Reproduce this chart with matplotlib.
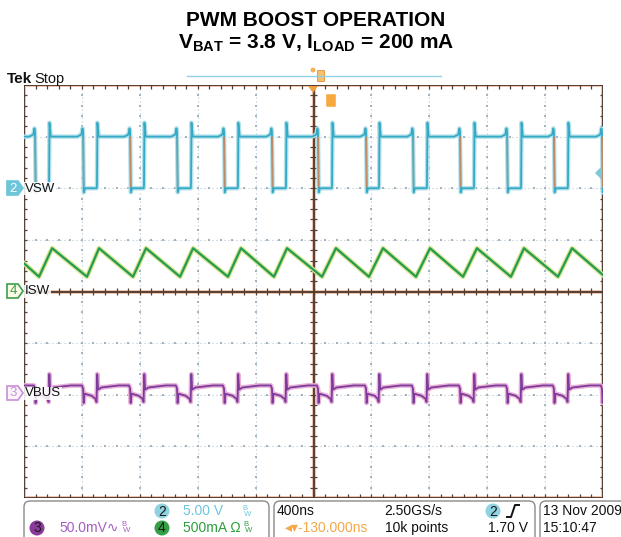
import matplotlib.pyplot as plt
import numpy as np
from matplotlib.patches import FancyBboxPatch, Polygon, Circle
from matplotlib.collections import LineCollection

plt.rcParams['mathtext.fontset'] = 'custom'
plt.rcParams['mathtext.rm'] = 'Liberation Sans'
plt.rcParams['mathtext.bf'] = 'Liberation Sans:bold'

SCOPE_FONT = ['Liberation Sans', 'DejaVu Sans']

# scope settings
ns_per_div = 400
vsw_v_per_div = 5.0
isw_ma_per_div = 500.0
vbus_mv_per_div = 50.0
vsw_pos, isw_pos, vbus_pos = 6.0, 4.0, 2.0

# VSW (ch2) edge times, ns from screen centre
vsw_fall_ns = [-1924, -1592, -1267, -943, -618, -287, 31, 363, 687, 1012, 1337, 1661, 1993]
vsw_rise_ns = [-1827, -1496, -1171, -846, -522, -190, 128, 453, 784, 1109, 1434, 1758]
vsw_start_v = 5.0
# shape around each edge (ns offset, volts)
vsw_fall_dt = [-40, -12, -4, 0, 5, 14]
vsw_fall_v = [5.0, 5.2, 5.8, 5.5, -0.4, 0.0]
vsw_rise_dt = [-2, 0, 3, 12]
vsw_rise_v = [0.0, 0.3, 6.35, 5.0]

# ISW (ch4) inductor current vertices
isw_t_ns = [-2000, -1896, -1806, -1565, -1482, -1247, -1157, -922, -832, -591, -501,
            -273, -183, 59, 155, 383, 480, 708, 805, 1033, 1129, 1364, 1454, 1689, 1786, 2000]
isw_ma = [273, 143, 419, 143, 419, 143, 419, 143, 419, 143, 419,
          143, 419, 143, 419, 143, 419, 143, 419, 143, 419, 143, 419, 143, 419, 160]

# VBUS (ch3) ripple shape around each VSW edge (ns offset, mV)
vbus_start_mv = 9
vbus_fall_dt = [-8, 0, 4, 10, 60]
vbus_fall_mv = [9, 6, -8, 1, -1]
vbus_rise_dt = [-10, -3, 2, 8, 30, 150]
vbus_rise_mv = [-4, -7, 20, 5, 7, 9]


def build(start, falls, f_dt, f_val, rises, r_dt, r_val):
    pts = [(-2000, start)]
    for tf in falls:
        pts += [(tf + d, v) for d, v in zip(f_dt, f_val)]
    for tr in rises:
        pts += [(tr + d, v) for d, v in zip(r_dt, r_val)]
    pts.sort()
    t = np.array([p[0] for p in pts], dtype=float)
    v = np.array([p[1] for p in pts], dtype=float)
    return t, v


def tx(t):
    return 5 + np.asarray(t, dtype=float) / ns_per_div


fig = plt.figure(figsize=(6.21, 5.37), dpi=100)
W, H = 621, 537
ax = fig.add_axes([24 / W, (H - 498) / H, 579 / W, 413 / H])
ax.set_xlim(0, 10)
ax.set_ylim(0, 8)
ax.axis('off')

# graticule dotted lines
grid_c = '#b8c6d0'
for y in [1, 2, 3, 5, 6, 7]:
    ax.plot([0, 10], [y, y], ls=(0, (1, 2.6)), color=grid_c, lw=0.8, zorder=1)
    xs = np.arange(0.2, 10, 0.2)
    ax.scatter(xs, np.full_like(xs, y), s=2.5, color='#a2b4c0', marker='s', lw=0, zorder=1)
for x in [1, 2, 3, 4, 6, 7, 8, 9]:
    ax.plot([x, x], [0, 8], ls=(0, (1, 2.6)), color=grid_c, lw=0.8, zorder=1)
    ys = np.arange(0.2, 8, 0.2)
    ax.scatter(np.full_like(ys, x), ys, s=2.5, color='#a2b4c0', marker='s', lw=0, zorder=1)

# frame and centre cross with reddish glow
line_c = '#3c2a20'
glow_c = '#efc2ac'
for xs_, ys_ in [([0, 10, 10, 0, 0], [0, 0, 8, 8, 0]), ([5, 5], [0, 8]), ([0, 10], [4, 4])]:
    ax.plot(xs_, ys_, color=glow_c, lw=2.8, zorder=2, solid_capstyle='butt')
    ax.plot(xs_, ys_, color=line_c, lw=1.2, zorder=3, solid_capstyle='butt')

tl_x, tl_y = 0.06, 0.07
segs = []
for x in np.arange(0.2, 10, 0.2):
    segs += [[(x, 0), (x, tl_y)], [(x, 8), (x, 8 - tl_y)], [(x, 4 - tl_y), (x, 4 + tl_y)]]
for y in np.arange(0.2, 8, 0.2):
    segs += [[(0, y), (tl_x, y)], [(10, y), (10 - tl_x, y)], [(5 - tl_x, y), (5 + tl_x, y)]]
ax.add_collection(LineCollection(segs, colors='#55402f', linewidths=0.9, zorder=3))

# traces
t_sw, v_sw = build(vsw_start_v, vsw_fall_ns, vsw_fall_dt, vsw_fall_v,
                   vsw_rise_ns, vsw_rise_dt, vsw_rise_v)
y_sw = vsw_pos + v_sw / vsw_v_per_div
ax.plot(tx(t_sw), y_sw, color='#b4e2ec', lw=3.2, zorder=4)
ax.plot(tx(t_sw), y_sw, color='#36a9c4', lw=1.3, zorder=5)
for tf in vsw_fall_ns:
    ax.plot(tx([tf + 2, tf + 2]), [vsw_pos + 5.0 / vsw_v_per_div, vsw_pos + 0.2 / vsw_v_per_div],
            color='#c08a66', lw=0.9, zorder=5)

y_isw = isw_pos + np.array(isw_ma) / isw_ma_per_div
ax.plot(tx(isw_t_ns), y_isw, color='#d6e68a', lw=3.4, zorder=4)
ax.plot(tx(isw_t_ns), y_isw, color='#259a55', lw=1.6, zorder=5)

t_bus, v_bus = build(vbus_start_mv, vsw_fall_ns, vbus_fall_dt, vbus_fall_mv,
                     vsw_rise_ns, vbus_rise_dt, vbus_rise_mv)
y_bus = vbus_pos + v_bus / vbus_mv_per_div
ax.plot(tx(t_bus), y_bus, color='#eab0d6', lw=3.4, zorder=4)
ax.plot(tx(t_bus), y_bus, color='#7b3c9c', lw=1.3, zorder=5)

# overlay in pixel coordinates for all annotations
ov = fig.add_axes([0, 0, 1, 1])
ov.set_xlim(0, W)
ov.set_ylim(H, 0)
ov.axis('off')

fig.text(316 / W, 1 - 20 / H, 'PWM BOOST OPERATION', ha='center', va='center',
         fontsize=15, fontweight='bold', family='Liberation Sans')
fig.text(316 / W, 1 - 43 / H,
         r'$\mathbf{V_{BAT}}$ = 3.8 V, $\mathbf{I_{LOAD}}$ = 200 mA',
         ha='center', va='center', fontsize=15, fontweight='bold', family='Liberation Sans')

# top status line
ov.text(7, 83, 'Tek', fontsize=11, fontweight='bold', family=SCOPE_FONT, va='baseline',
        color='#111111')
ov.text(34, 83, 'Stop', fontsize=10.5, family=SCOPE_FONT, va='baseline', color='#111111')
ov.plot([187, 441], [76, 76], color='#8fd0e6', lw=1.0)
ov.add_patch(Circle((313, 70), 2.5, color='#f5b060', lw=0))
ov.add_patch(FancyBboxPatch((318, 71), 6, 10, boxstyle='round,pad=0.5', fc='#f7c070',
                            ec='#e09030', lw=0.6))
ov.add_patch(Polygon([(308, 86), (318, 86), (313, 93)], closed=True, color='#f0a040', lw=0))
ov.add_patch(FancyBboxPatch((327, 95), 8, 11, boxstyle='round,pad=0.8', fc='#f7a840',
                            ec='none'))


# channel markers on the left
def marker(yc, num, fc, ec, tc):
    ov.add_patch(Polygon([(7, yc - 7), (18, yc - 7), (23, yc), (18, yc + 7), (7, yc + 7)],
                         closed=True, fc=fc, ec=ec, lw=1.2, zorder=6))
    ov.text(13, yc + 0.5, num, ha='center', va='center', fontsize=9.5, family=SCOPE_FONT,
            color=tc, zorder=7)


marker(188, '2', '#6cc6d8', '#6cc6d8', 'white')
marker(291, '4', '#fbfbe8', '#3aa048', '#3aa048')
marker(393, '3', '#fbf4fb', '#c890d8', '#c890d8')

for yc, lab in [(188, 'VSW'), (291, 'ISW'), (393, 'VBUS')]:
    ov.text(25, yc + 0.5, lab, ha='left', va='center', fontsize=9.5, family=SCOPE_FONT,
            color='#111111', zorder=7,
            bbox=dict(boxstyle='square,pad=0.05', fc='white', ec='none', alpha=0.85))

# trigger level marker on the right
ov.add_patch(Polygon([(602, 166), (602, 180), (595, 173)], closed=True, color='#7cc8d8', lw=0))

# bottom readout boxes
for x0, x1 in [(24, 269), (274, 535), (540, 630)]:
    ov.add_patch(FancyBboxPatch((x0, 501), x1 - x0, 50, boxstyle='round,pad=0,rounding_size=6',
                                fc='white', ec='#8a8a8a', lw=1.0, zorder=2))


def badge(xc, yc, num, fc):
    ov.add_patch(Circle((xc, yc), 7.5, fc=fc, ec='none', zorder=3))
    ov.text(xc, yc + 0.5, num, ha='center', va='center', fontsize=10, family=SCOPE_FONT,
            color='#1a1a1a', zorder=4)


badge(162, 511, '2', '#8fd2e0')
badge(37, 528, '3', '#8a3a98')
badge(162, 528, '4', '#35a048')

fs = 10
bw = dict(fontsize=5.5, family=SCOPE_FONT, va='center', linespacing=0.8)
ov.text(183, 511, '5.00 V', fontsize=fs, family=SCOPE_FONT, va='center', color='#6cc6dc')
ov.text(242, 511, 'B\n W', color='#6cc6dc', **bw)
ov.text(59, 528, '50.0mV\u223f', fontsize=fs, family=SCOPE_FONT, va='center', color='#a35ec0')
ov.text(121, 528, 'B\n W', color='#a35ec0', **bw)
ov.text(183, 528, '500mA \u03a9', fontsize=fs, family=SCOPE_FONT, va='center', color='#2e9e3e')
ov.text(243, 528, 'B\n W', color='#2e9e3e', **bw)

ov.text(277, 511, '400ns', fontsize=fs, family=SCOPE_FONT, va='center', color='#111111')
ov.text(384, 511, '2.50GS/s', fontsize=fs, family=SCOPE_FONT, va='center', color='#111111')
badge(493, 511, '2', '#8fd2e0')
ov.plot([507, 511, 515, 519], [517, 517, 505, 505], color='#111111', lw=1.4)
ov.add_patch(FancyBboxPatch((278, 522), 4, 11, boxstyle='round,pad=0.5', fc='#f7a840', ec='none'))
ov.text(285, 528, '\u25c2\u25be-130.000ns', fontsize=fs, family=SCOPE_FONT, va='center',
        color='#f5a848')
ov.text(385, 528, '10k points', fontsize=fs, family=SCOPE_FONT, va='center', color='#111111')
ov.text(528, 528, '1.70 V', fontsize=fs, family=SCOPE_FONT, va='center', ha='right',
        color='#111111')
ov.text(543, 511, '13 Nov 2009', fontsize=fs, family=SCOPE_FONT, va='center', color='#111111')
ov.text(543, 528, '15:10:47', fontsize=fs, family=SCOPE_FONT, va='center', color='#111111')

fig.savefig('out.png', dpi=100)
